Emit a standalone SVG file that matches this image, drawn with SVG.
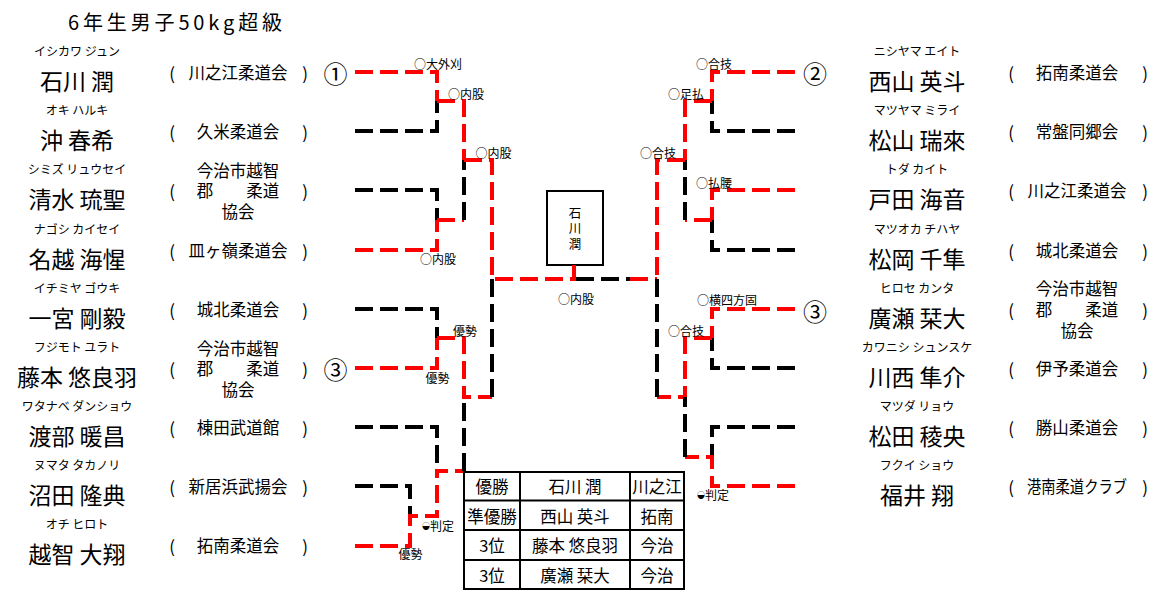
<svg xmlns="http://www.w3.org/2000/svg" width="1164" height="592" viewBox="0 0 1164 592">
<style>
text{font-family:"Noto Sans CJK JP","Noto Sans CJK SC",sans-serif;fill:#000;dominant-baseline:central;text-anchor:middle}
.title{font-size:20px;text-anchor:start}
.name{font-size:23px}
.kana{font-size:12px}
.club{font-size:16.5px}
.par{font-size:17px}
.lbl{font-size:12px}
.num{font-size:24px}
.tb{font-size:16.5px}
.sm{font-size:8px}
.ln path{fill:none;stroke-width:4;stroke-dasharray:18 7}
.ln .r{stroke:#f00}
.ln .k{stroke:#000}
.grid{fill:none;stroke:#000;stroke-width:2}
</style>
<rect width="1164" height="592" fill="#fff"/>
<text class="title" x="68" y="21" textLength="214" lengthAdjust="spacing">6年生男子50kg超級</text>

<!-- Left players -->
<g id="L1"><text class="kana" x="77" y="50.5">イシカワ ジュン</text><text class="name" x="77" y="79.5">石川 潤</text><text class="par" x="172" y="72">(</text><text class="club" x="238" y="72">川之江柔道会</text><text class="par" x="305" y="72">)</text></g>
<g id="L2"><text class="kana" x="77" y="109.5">オキ ハルキ</text><text class="name" x="77" y="138.5">沖 春希</text><text class="par" x="172" y="131">(</text><text class="club" x="238" y="131">久米柔道会</text><text class="par" x="305" y="131">)</text></g>
<g id="L3"><text class="kana" x="77" y="168.5">シミズ リュウセイ</text><text class="name" x="77" y="197.5">清水 琉聖</text><text class="par" x="172" y="190">(</text><text class="club" x="238" y="169.5">今治市越智</text><text class="club" x="238" y="190">郡　　柔道</text><text class="club" x="238" y="210.5">協会</text><text class="par" x="305" y="190">)</text></g>
<g id="L4"><text class="kana" x="77" y="228.5">ナゴシ カイセイ</text><text class="name" x="77" y="257.5">名越 海惺</text><text class="par" x="172" y="250">(</text><text class="club" x="238" y="250">皿ヶ嶺柔道会</text><text class="par" x="305" y="250">)</text></g>
<g id="L5"><text class="kana" x="77" y="287.5">イチミヤ ゴウキ</text><text class="name" x="77" y="316.5">一宮 剛毅</text><text class="par" x="172" y="309">(</text><text class="club" x="238" y="309">城北柔道会</text><text class="par" x="305" y="309">)</text></g>
<g id="L6"><text class="kana" x="77" y="346.5">フジモト ユラト</text><text class="name" x="77" y="375.5">藤本 悠良羽</text><text class="par" x="172" y="368">(</text><text class="club" x="238" y="347.5">今治市越智</text><text class="club" x="238" y="368">郡　　柔道</text><text class="club" x="238" y="388.5">協会</text><text class="par" x="305" y="368">)</text></g>
<g id="L7"><text class="kana" x="77" y="405.5">ワタナベ ダンショウ</text><text class="name" x="77" y="434.5">渡部 暖昌</text><text class="par" x="172" y="427">(</text><text class="club" x="238" y="427">棟田武道館</text><text class="par" x="305" y="427">)</text></g>
<g id="L8"><text class="kana" x="77" y="464.5">ヌマタ タカノリ</text><text class="name" x="77" y="493.5">沼田 隆典</text><text class="par" x="172" y="486">(</text><text class="club" x="238" y="486">新居浜武揚会</text><text class="par" x="305" y="486">)</text></g>
<g id="L9"><text class="kana" x="77" y="523.5">オチ ヒロト</text><text class="name" x="77" y="552.5">越智 大翔</text><text class="par" x="172" y="545">(</text><text class="club" x="238" y="545">拓南柔道会</text><text class="par" x="305" y="545">)</text></g>

<!-- Right players -->
<g id="R1"><text class="kana" x="917" y="50.5">ニシヤマ エイト</text><text class="name" x="917" y="79.5">西山 英斗</text><text class="par" x="1011" y="72">(</text><text class="club" x="1077" y="72">拓南柔道会</text><text class="par" x="1145" y="72">)</text></g>
<g id="R2"><text class="kana" x="917" y="109.5">マツヤマ ミライ</text><text class="name" x="917" y="138.5">松山 瑞來</text><text class="par" x="1011" y="131">(</text><text class="club" x="1077" y="131">常盤同郷会</text><text class="par" x="1145" y="131">)</text></g>
<g id="R3"><text class="kana" x="917" y="168.5">トダ カイト</text><text class="name" x="917" y="197.5">戸田 海音</text><text class="par" x="1011" y="190">(</text><text class="club" x="1077" y="190">川之江柔道会</text><text class="par" x="1145" y="190">)</text></g>
<g id="R4"><text class="kana" x="917" y="228.5">マツオカ チハヤ</text><text class="name" x="917" y="257.5">松岡 千隼</text><text class="par" x="1011" y="250">(</text><text class="club" x="1077" y="250">城北柔道会</text><text class="par" x="1145" y="250">)</text></g>
<g id="R5"><text class="kana" x="917" y="287.5">ヒロセ カンタ</text><text class="name" x="917" y="316.5">廣瀬 栞大</text><text class="par" x="1011" y="309">(</text><text class="club" x="1077" y="288">今治市越智</text><text class="club" x="1077" y="309">郡　　柔道</text><text class="club" x="1077" y="329.5">協会</text><text class="par" x="1145" y="309">)</text></g>
<g id="R6"><text class="kana" x="917" y="346.5">カワニシ シュンスケ</text><text class="name" x="917" y="375.5">川西 隼介</text><text class="par" x="1011" y="368">(</text><text class="club" x="1077" y="368">伊予柔道会</text><text class="par" x="1145" y="368">)</text></g>
<g id="R7"><text class="kana" x="917" y="405.5">マツダ リョウ</text><text class="name" x="917" y="434.5">松田 稜央</text><text class="par" x="1011" y="427">(</text><text class="club" x="1077" y="427">勝山柔道会</text><text class="par" x="1145" y="427">)</text></g>
<g id="R8"><text class="kana" x="917" y="464.5">フクイ ショウ</text><text class="name" x="917" y="493.5">福井 翔</text><text class="par" x="1011" y="486">(</text><text class="club" x="1077" y="486" textLength="100" lengthAdjust="spacingAndGlyphs">港南柔道クラブ</text><text class="par" x="1145" y="486">)</text></g>

<!-- seed marks -->
<g id="seeds">
<text class="num" x="335.5" y="72">①</text>
<text class="num" x="335.5" y="368">③</text>
<text class="num" x="815" y="72">②</text>
<text class="num" x="815" y="310">③</text>
</g>

<!-- champion box -->
<g id="champion">
<rect x="547" y="191" width="56" height="74" fill="#fff" stroke="#000" stroke-width="2"/>
<text x="575" y="212" style="font-size:12.5px">石</text>
<text x="575" y="227.5" style="font-size:12.5px">川</text>
<text x="575" y="243" style="font-size:12.5px">潤</text>
</g>

<!-- connectors -->
<g id="connectors" class="ln">
<path class="r" d="M355 72H437V101"/>
<path class="k" d="M355 131H437V101"/>
<path class="r" d="M437 101H464V160"/>
<path class="k" d="M355 190H437V220"/>
<path class="r" d="M355 250H437V220"/>
<path class="r" d="M437 220H464"/>
<path class="k" d="M464 220V160"/>
<path class="r" d="M464 160H492V279H574V265"/>
<path class="k" d="M355 309H437V338"/>
<path class="r" d="M355 368H437V338"/>
<path class="r" d="M437 338H464V397H492"/>
<path class="k" d="M492 397V279"/>
<path class="k" d="M355 427H437V471"/>
<path class="k" d="M355 486H410V516"/>
<path class="r" d="M355 546H410V516H437V471H464"/>
<path class="k" d="M464 471V397"/>
<path class="k" d="M576 279H630"/>
<path class="r" d="M630 279H657"/>
<path class="r" d="M795 72H712V101"/>
<path class="k" d="M795 131H712V101"/>
<path class="r" d="M712 101H685V160"/>
<path class="r" d="M795 190H712V220"/>
<path class="k" d="M795 250H712V220"/>
<path class="r" d="M712 220H685"/>
<path class="k" d="M685 220V160"/>
<path class="r" d="M685 160H657V279"/>
<path class="r" d="M795 309H712V338"/>
<path class="k" d="M795 368H712V338"/>
<path class="r" d="M712 338H685V397H657"/>
<path class="k" d="M657 397V279"/>
<path class="k" d="M795 427H712V457"/>
<path class="r" d="M795 486H712V457H685"/>
<path class="k" d="M685 457V397"/>
</g>

<!-- match labels -->
<g id="labels">
<text class="lbl" x="438" y="63">○大外刈</text>
<text class="lbl" x="466" y="93">○内股</text>
<text class="lbl" x="493.5" y="152">○内股</text>
<text class="lbl" x="438" y="258">○内股</text>
<text class="lbl" x="465" y="330">優勢</text>
<text class="lbl" x="437.5" y="377">優勢</text>
<text class="lbl" x="438" y="525"><tspan class="sm">◒</tspan>判定</text>
<text class="lbl" x="410.5" y="553">優勢</text>
<text class="lbl" x="576" y="298">○内股</text>
<text class="lbl" x="714" y="63">○合技</text>
<text class="lbl" x="686" y="93">○足払</text>
<text class="lbl" x="658" y="152">○合技</text>
<text class="lbl" x="714" y="182">○払腰</text>
<text class="lbl" x="727" y="299">○横四方固</text>
<text class="lbl" x="686" y="330">○合技</text>
<text class="lbl" x="713" y="494"><tspan class="sm">◒</tspan>判定</text>
</g>

<!-- results table -->
<g id="result-table">
<rect class="grid" x="464" y="472" width="220" height="117" fill="#fff"/>
<path class="grid" d="M464 500.5H684M464 530H684M464 560H684M520 472V589M630 472V589"/>
<text class="tb" x="492" y="486">優勝</text>
<text class="tb" x="575" y="486">石川 潤</text>
<text class="tb" x="657" y="486">川之江</text>
<text class="tb" x="492" y="515.5">準優勝</text>
<text class="tb" x="575" y="515.5">西山 英斗</text>
<text class="tb" x="657" y="515.5">拓南</text>
<text class="tb" x="492" y="545">3位</text>
<text class="tb" x="575" y="545">藤本 悠良羽</text>
<text class="tb" x="657" y="545">今治</text>
<text class="tb" x="492" y="574.5">3位</text>
<text class="tb" x="575" y="574.5">廣瀬 栞大</text>
<text class="tb" x="657" y="574.5">今治</text>
</g>
</svg>
